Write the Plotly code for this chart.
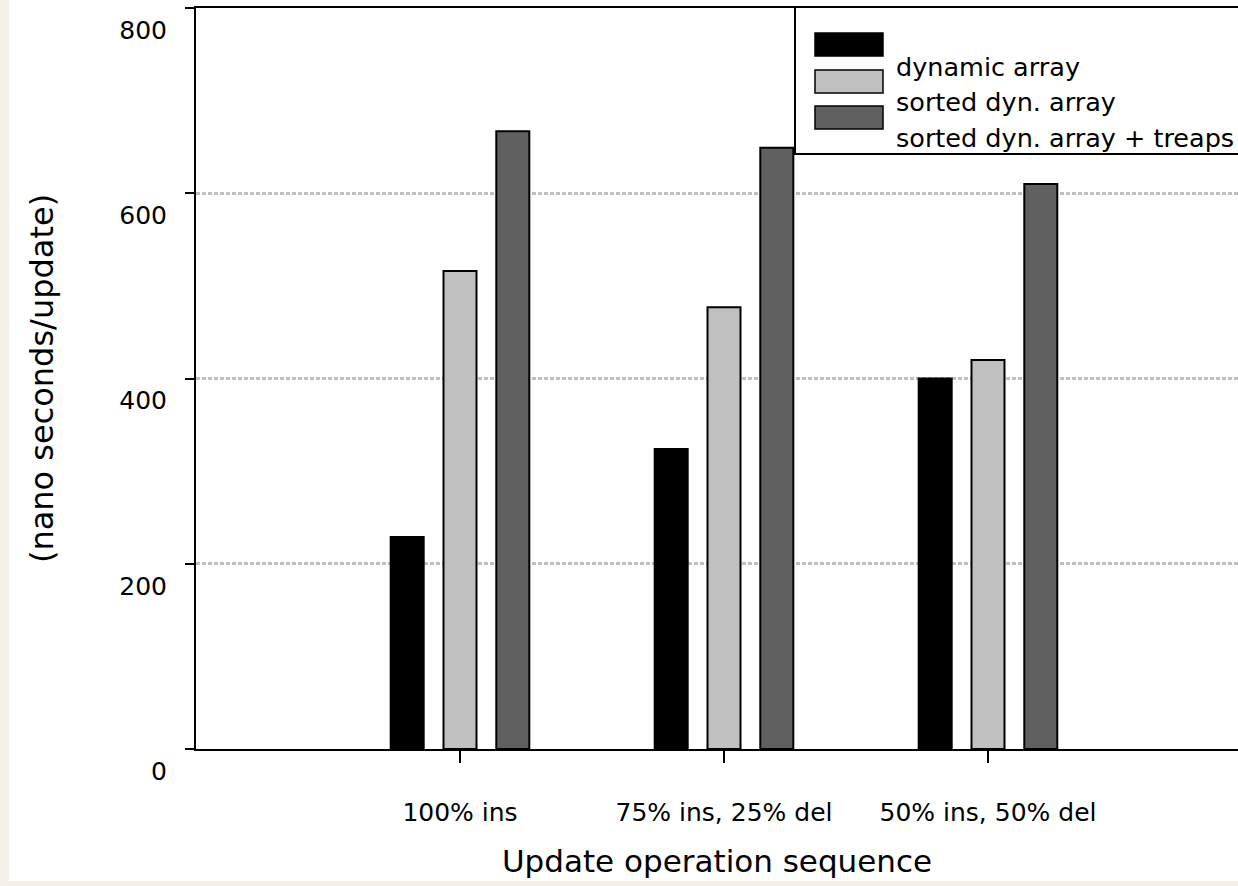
import plotly.graph_objects as go

# ---- data ----
categories = ["100% ins", "75% ins, 25% del", "50% ins, 50% del"]
series_names = ["dynamic array", "sorted dyn. array", "sorted dyn. array + treaps"]
dynamic_array = [229, 324, 400]
sorted_dyn_array = [516, 477, 420]
sorted_dyn_array_treaps = [667, 649, 610]
y_tick_values = [0, 200, 400, 600, 800]
y_tick_labels = ["0", "200", "400", "600", "800"]
x_title = "Update operation sequence"
y_title = "(nano seconds/update)"

series_values = [dynamic_array, sorted_dyn_array, sorted_dyn_array_treaps]
colors = ["#000000", "#c0c0c0", "#606060"]

W, H = 1238, 886
ML, MR, MT, MB = 196, 0, 8, 137
PW, PH = W - ML - MR, H - MT - MB
FONT = "DejaVu Sans"


def px_x(px):
    return (px - ML) / PW


def px_y(py):
    return (H - MB - py) / PH


fig = go.Figure()
for name, vals, col in zip(series_names, series_values, colors):
    fig.add_trace(go.Bar(
        x=categories, y=vals, name=name,
        marker=dict(color=col, line=dict(color="#000000", width=2)),
        showlegend=False,
    ))

shapes = []
# page background strips
shapes.append(dict(type="rect", xref="paper", yref="paper", layer="below",
                   x0=px_x(0), x1=px_x(9), y0=px_y(0), y1=px_y(H),
                   fillcolor="#f5f1ea", line=dict(width=0)))
shapes.append(dict(type="rect", xref="paper", yref="paper", layer="below",
                   x0=px_x(0), x1=px_x(W), y0=px_y(881), y1=px_y(H),
                   fillcolor="#f5f1ea", line=dict(width=0)))
# legend box
shapes.append(dict(type="rect", xref="paper", yref="paper", layer="above",
                   x0=px_x(795), x1=px_x(W + 10), y0=px_y(154), y1=px_y(7),
                   fillcolor="#ffffff", line=dict(color="#000000", width=2)))
annotations = []
sw_top = [33, 70, 106]
txt_mid = [67, 102, 138]
for i, (name, col) in enumerate(zip(series_names, colors)):
    shapes.append(dict(type="rect", xref="paper", yref="paper", layer="above",
                       x0=px_x(815), x1=px_x(883), y0=px_y(sw_top[i] + 23), y1=px_y(sw_top[i]),
                       fillcolor=col, line=dict(color="#000000", width=1.5)))
    annotations.append(dict(xref="paper", yref="paper", x=px_x(894), y=px_y(txt_mid[i]),
                            xanchor="left", yanchor="middle", text=name, showarrow=False,
                            font=dict(family=FONT, size=25.5, color="#000000")))

fig.update_layout(
    width=W, height=H,
    margin=dict(l=ML, r=MR, t=MT, b=MB, pad=0),
    paper_bgcolor="#ffffff", plot_bgcolor="#ffffff",
    barmode="group", bargap=0.4, bargroupgap=0.375,
    shapes=shapes, annotations=annotations,
    font=dict(family=FONT, size=24, color="#000000"),
)
fig.update_xaxes(
    type="category", range=[-1, 2.947],
    showline=True, linecolor="#000000", linewidth=2, mirror=True,
    ticks="outside", ticklen=12, tickwidth=2, tickcolor="#000000",
    showgrid=False, zeroline=False,
    tickfont=dict(family=FONT, size=25, color="#000000"),
    ticklabelstandoff=28,
    title=dict(text=x_title, font=dict(family=FONT, size=31, color="#000000"), standoff=24),
)
fig.update_yaxes(
    range=[0, 800], tickmode="array", tickvals=y_tick_values, ticktext=y_tick_labels,
    showline=True, linecolor="#000000", linewidth=2, mirror=False,
    ticks="outside", ticklen=9, tickwidth=2, tickcolor="#000000",
    showgrid=True, gridcolor="#c0c0c0", gridwidth=3, griddash="4px,2px",
    zeroline=False,
    tickfont=dict(family=FONT, size=25, color="#000000"),
    ticklabelstandoff=13, ticklabelshift=22,
    title=dict(text=y_title, font=dict(family=FONT, size=32, color="#000000"), standoff=56),
)

fig.write_html(
    "out.html",
    config={"displayModeBar": False},
    post_script="document.body.style.margin='0';document.body.style.overflow='hidden';",
)
